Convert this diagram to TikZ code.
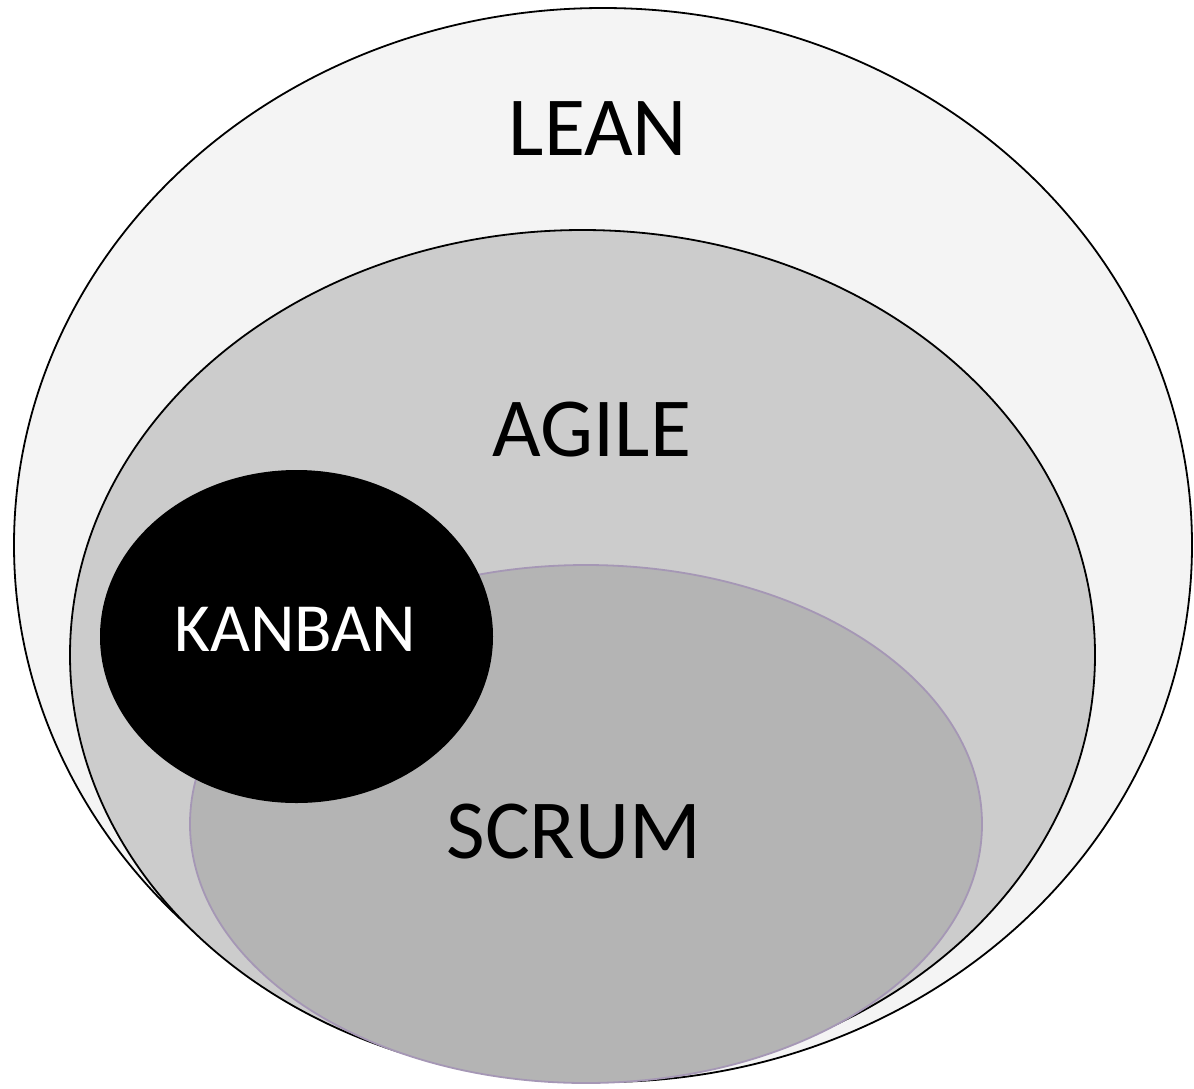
\documentclass[tikz,border=0pt]{standalone}
\usepackage{fontspec}
\setmainfont{Carlito}
\usetikzlibrary{shapes.geometric}
\definecolor{leanfill}{HTML}{F4F4F4}
\definecolor{agilefill}{HTML}{CCCCCC}
\definecolor{scrumfill}{HTML}{B4B4B4}
\definecolor{scrumline}{HTML}{A597B5}
\tikzset{
  ring/.style={line width=1.8pt, draw=black},
  lbl/.style={anchor=base, inner sep=0pt, font=\fontsize{84}{100}\selectfont},
}
\begin{document}
\begin{tikzpicture}[x=1pt,y=-1pt]
\useasboundingbox (0,0) rectangle (1194,1088);
\path[ring, fill=leanfill] (603,545) ellipse [x radius=589, y radius=537];
\path[ring, fill=agilefill] (582.5,655) ellipse [x radius=512.5, y radius=425];
\path[line width=1.8pt, draw=scrumline, fill=scrumfill] (586,824) ellipse [x radius=396, y radius=259];
\path[fill=black] (296.5,636.5) ellipse [x radius=196.5, y radius=166.5];
\node[lbl] (lean) at (598,155) {LEAN};
\node[lbl] (agile) at (592,456) {AGILE};
\node[lbl, text=white, font=\fontsize{69}{83}\selectfont] (kanban) at (295,651) {KANBAN};
\node[lbl] (scrum) at (574,858) {SCRUM};
\end{tikzpicture}
\end{document}
